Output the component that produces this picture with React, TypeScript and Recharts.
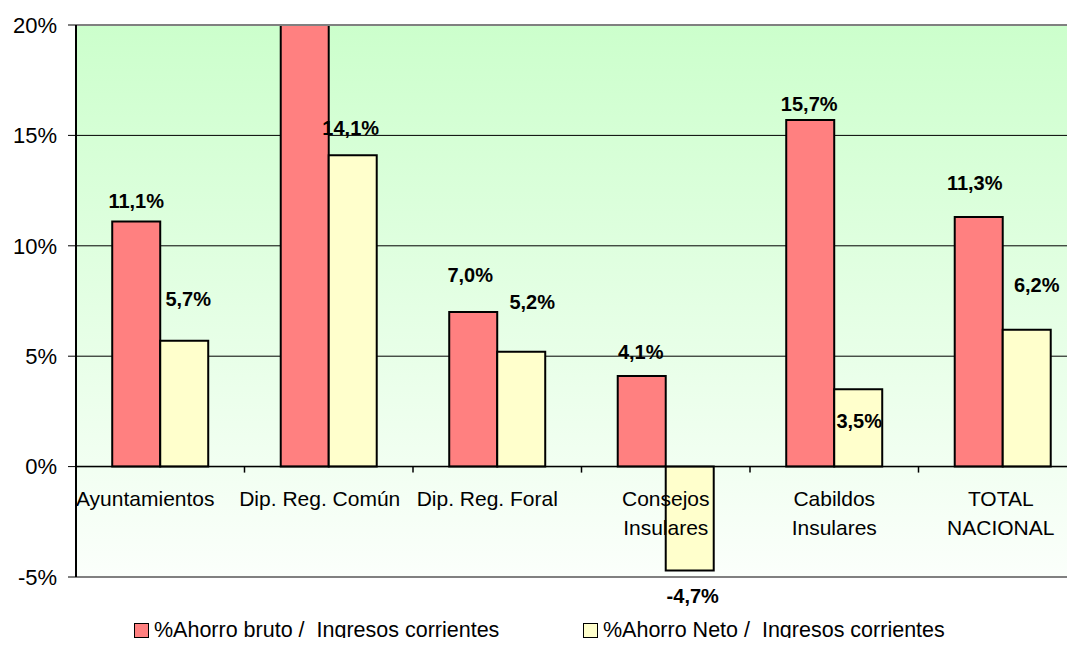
import React from 'react';
import { ComposedChart, Bar, Line, XAxis, YAxis, CartesianGrid, ReferenceLine, LabelList } from 'recharts';

const categories = [
  'Ayuntamientos',
  'Dip. Reg. Común',
  'Dip. Reg. Foral',
  'Consejos\nInsulares',
  'Cabildos\nInsulares',
  'TOTAL\nNACIONAL',
];
// Dip. Reg. Común bruto runs off the top of the chart (no label in the original)
const ahorroBruto = [11.1, 24.5, 7.0, 4.1, 15.7, 11.3];
const ahorroNeto = [5.7, 14.1, 5.2, -4.7, 3.5, 6.2];
const yTicks = [-5, 0, 5, 10, 15, 20];
const seriesNames = ['%Ahorro bruto /  Ingresos corrientes', '%Ahorro Neto /  Ingresos corrientes'];

const Y_MIN = -5;
const Y_MAX = 20;
const BAND = 168.5; // category width in px, used for the little boundary ticks
const FONT = '"Liberation Sans", Arial, sans-serif';
const RED = '#ff8080';
const YELLOW = '#ffffcc';

// label placement nudges [dx, lift above bar] – Excel put them a bit all over the place
const brutoNudge = [[0, 21], [0, 0], [-3, 37], [-1, 24], [-1, 16], [-4, 34]];
const netoNudge = [[4, 42], [-2, 27], [11, 50], [3, 26], [1, -32], [10, 45]];
// single-line category names sit a little left of centre in the original
const catNudge = [-15, -9, -10, 0, 0, -2];

const data = categories.map((name, i) => ({
  name,
  bruto: ahorroBruto[i],
  neto: ahorroNeto[i],
}));

const fmt = (v: number) => v.toFixed(1).replace('.', ',') + '%';

const makeValueLabel = (nudge: number[][]) => (props: any) => {
  const { x, y, width, height, value, index } = props;
  if (value > Y_MAX || value < Y_MIN) return null;
  const top = Math.min(y, y + height);
  const bottom = Math.max(y, y + height);
  const [dx, lift] = nudge[index];
  const cy = value >= 0 ? top - lift : bottom + lift;
  return (
    <text
      x={x + width / 2 + dx}
      y={cy}
      textAnchor="middle"
      dominantBaseline="central"
      fontSize={20}
      fontWeight="bold"
      fontFamily={FONT}
      fill="#000"
    >
      {fmt(value)}
    </text>
  );
};

// category names sit under the 0% line, not at the bottom of the plot
const CategoryLabel = (props: any) => {
  const { x, y, value, index } = props;
  const lines = String(value).split('\n');
  const tx = x + catNudge[index];
  return (
    <g>
      <line x1={x + BAND / 2} x2={x + BAND / 2} y1={y} y2={y + 6} stroke="#000" strokeWidth={1.5} />
      <text x={tx} y={y + 31} textAnchor="middle" dominantBaseline="central" fontSize={21} fontFamily={FONT} fill="#000">
        {lines.map((l, k) => (
          <tspan key={k} x={tx} dy={k === 0 ? 0 : 29}>
            {l}
          </tspan>
        ))}
      </text>
    </g>
  );
};

const LegendItem = ({ left, color, label }: { left: number; color: string; label: string }) => (
  <div style={{ position: 'absolute', left, top: 618, height: 24, display: 'flex', alignItems: 'center' }}>
    <div style={{ width: 13, height: 13, background: color, border: '1.5px solid #000', marginRight: 5 }} />
    <span style={{ fontSize: 21.5, whiteSpace: 'pre', lineHeight: '24px', color: '#000' }}>{label}</span>
  </div>
);

export default function App() {
  return (
    <div
      style={{
        margin: -8,
        width: 1075,
        height: 646,
        overflow: 'hidden',
        position: 'relative',
        background: '#fff',
        fontFamily: FONT,
      }}
    >
      <ComposedChart
        width={1100}
        height={646}
        data={data}
        margin={{ top: 25, right: 13, bottom: 69, left: 0 }}
        barCategoryGap="21.5%"
        barGap={0}
      >
        <defs>
          <linearGradient id="bgGrad" x1="0" y1="0" x2="0" y2="1">
            <stop offset="0%" stopColor="#ccffcc" />
            <stop offset="100%" stopColor="#fbfffb" />
          </linearGradient>
        </defs>
        <CartesianGrid vertical={false} stroke="#000" fill="url(#bgGrad)" fillOpacity={1} />
        <XAxis dataKey="name" hide />
        <YAxis
          type="number"
          domain={[Y_MIN, Y_MAX]}
          ticks={yTicks}
          allowDataOverflow
          width={76}
          tickFormatter={(v: number) => `${v}%`}
          tick={{ fontSize: 22, fill: '#000', fontFamily: FONT }}
          tickLine={{ stroke: '#000' }}
          tickSize={8}
          tickMargin={11}
          axisLine={{ stroke: '#000', strokeWidth: 2 }}
        />
        <ReferenceLine y={-5} stroke="#808080" strokeWidth={2} />
        <ReferenceLine y={20} stroke="#808080" strokeWidth={2} />
        <Bar dataKey="bruto" fill={RED} stroke="#000" strokeWidth={2} isAnimationActive={false}>
          <LabelList dataKey="bruto" content={makeValueLabel(brutoNudge)} />
        </Bar>
        <Bar dataKey="neto" fill={YELLOW} stroke="#000" strokeWidth={2} isAnimationActive={false}>
          <LabelList dataKey="neto" content={makeValueLabel(netoNudge)} />
        </Bar>
        <ReferenceLine y={0} stroke="#000" strokeWidth={1.5} />
        <Line
          dataKey={() => 0}
          stroke="none"
          dot={false}
          activeDot={false}
          legendType="none"
          isAnimationActive={false}
        >
          <LabelList dataKey="name" content={CategoryLabel} />
        </Line>
      </ComposedChart>
      <LegendItem left={134} color={RED} label={seriesNames[0]} />
      <LegendItem left={583} color={YELLOW} label={seriesNames[1]} />
    </div>
  );
}
